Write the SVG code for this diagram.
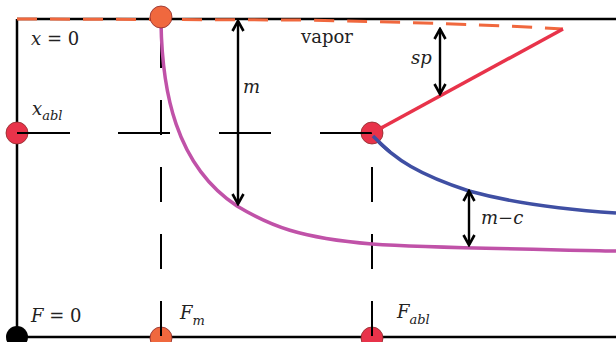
<svg xmlns="http://www.w3.org/2000/svg" width="616" height="342" viewBox="0 0 616 342">
<defs>
<marker id="ah" viewBox="0 0 14 14" refX="12" refY="7" markerWidth="14" markerHeight="14" markerUnits="userSpaceOnUse" orient="auto-start-reverse">
<path d="M2,1.5 L12,7 L2,12.5" fill="none" stroke="#000" stroke-width="2.6" stroke-linejoin="miter"/>
</marker>
</defs>
<style>
.frame{stroke:#000;stroke-width:2.5;fill:none}
.hdash{stroke:#000;stroke-width:2;fill:none;stroke-dasharray:52 49}
.vdash{stroke:#000;stroke-width:2;fill:none;stroke-dasharray:35 32}
.arr{stroke:#000;stroke-width:2.4;fill:none;marker-start:url(#ah);marker-end:url(#ah)}
.vap{stroke:#f0683e;stroke-width:3;fill:none;stroke-dasharray:20 13}
.t{font-family:"DejaVu Serif",serif;font-size:18px;fill:#222}
.m{font-family:"DejaVu Serif",serif;font-style:italic;font-size:18px;fill:#222}
.s{font-size:13px}
.nd{stroke:#8a2a2a;stroke-width:0.8}
</style>
<g id="connectors">
<path class="frame" d="M17,19 L616,19 M17,19 L17,337 L616,337"/>
<path class="hdash" d="M17,133 L372,133"/>
<path class="vdash" d="M161,336 L161,20"/>
<path class="vdash" d="M372,336 L372,134"/>
<path class="vap" d="M17,19 L300,20 C400,22 500,25 563,29"/>
<path d="M372,133 L563,29" stroke="#e8334a" stroke-width="3.5" fill="none"/>
<path d="M373,136 C395,160 420,175 469,191 C520,205 570,210 616,213" stroke="#3f4fa3" stroke-width="3.5" fill="none"/>
<path d="M161,22 C162,90 175,165 237,206 C270,226 300,238 372,244 C430,248 520,249 616,251" stroke="#c052a8" stroke-width="3.5" fill="none"/>
<path class="arr" d="M238,21 L238,204"/>
<path class="arr" d="M440,29 L440,94"/>
<path class="arr" d="M469,191 L469,245"/>
</g>
<g id="n_top"><circle class="nd" cx="161" cy="17" r="11" fill="#f0683e"/></g>
<g id="n_xabl"><circle class="nd" cx="17" cy="133" r="11" fill="#e8334a"/></g>
<g id="n_mid"><circle class="nd" cx="372" cy="133" r="11" fill="#e8334a"/></g>
<g id="n_F0"><circle cx="17" cy="337" r="11" fill="#000"/></g>
<g id="n_Fm"><circle class="nd" cx="161" cy="338" r="11" fill="#f0683e"/></g>
<g id="n_Fabl"><circle class="nd" cx="372" cy="338" r="11" fill="#e8334a"/></g>
<g id="overlay">
<path d="M17,133 L70,133" stroke="#000" stroke-width="2"/>
<path d="M372,133 L321,133" stroke="#000" stroke-width="2"/>
<path d="M161,336 L161,301" stroke="#000" stroke-width="2"/>
<path d="M372,336 L372,301" stroke="#000" stroke-width="2"/>
<path d="M373,136 C380,143 385,148 390,152" stroke="#3f4fa3" stroke-width="3.5" fill="none"/>
<path d="M372,133 L383,127" stroke="#e8334a" stroke-width="3.5" fill="none"/>
</g>
<g id="labels">
<text class="m" x="31" y="45">x <tspan font-style="normal">= 0</tspan></text>
<text class="m" x="32" y="115">x<tspan class="s" dy="5">abl</tspan></text>
<text class="m" x="243" y="93">m</text>
<text class="t" x="301" y="43">vapor</text>
<text class="m" x="411" y="64">sp</text>
<text class="m" x="481" y="224">m<tspan font-style="normal">−</tspan>c</text>
<text class="m" x="31" y="322">F <tspan font-style="normal">= 0</tspan></text>
<text class="m" x="180" y="319">F<tspan class="s" dy="6">m</tspan></text>
<text class="m" x="397" y="318">F<tspan class="s" dy="6">abl</tspan></text>
</g>
</svg>
